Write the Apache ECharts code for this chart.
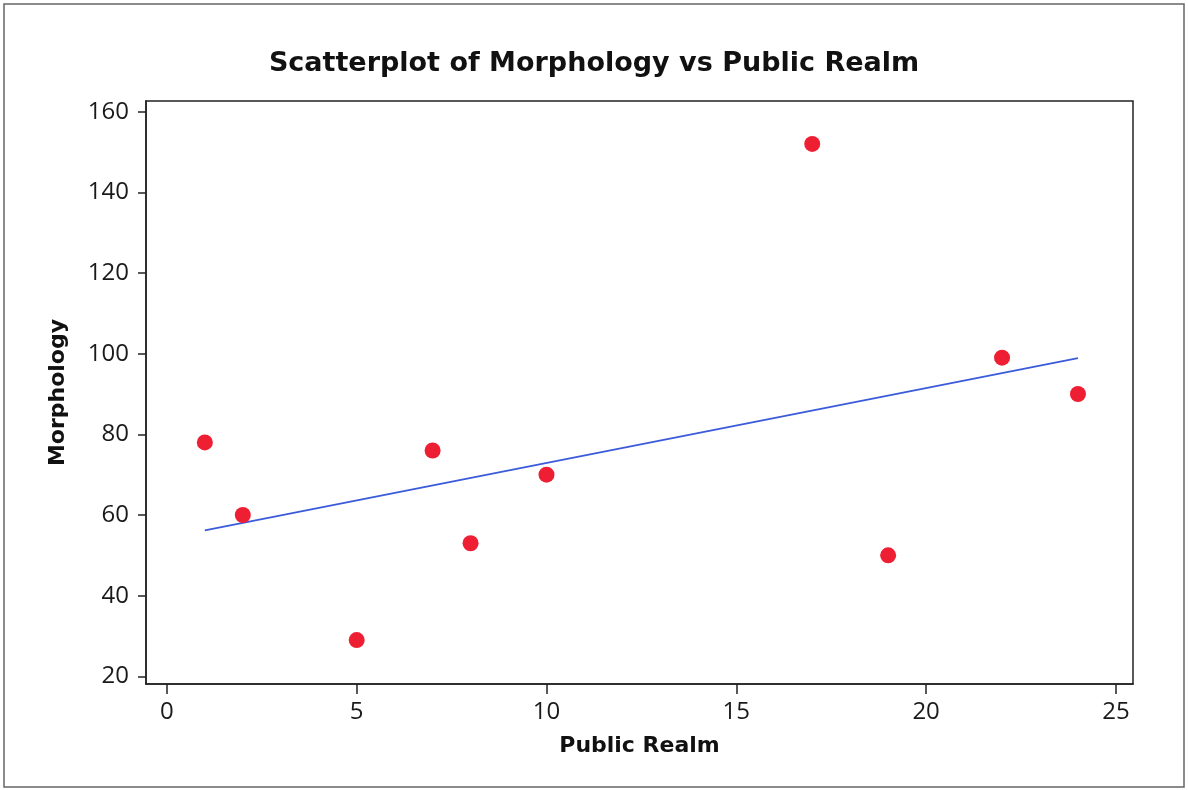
<!DOCTYPE html>
<html>
<head>
<meta charset="utf-8">
<script src="https://cdn.jsdelivr.net/npm/echarts@6/dist/echarts.min.js"></script>
<style>
  html, body { margin: 0; padding: 0; background: #fff; }
  #chart { width: 1188px; height: 790px; }
</style>
</head>
<body>
<div id="chart"></div>
<script>
// values
const publicRealm = [1, 2, 5, 7, 8, 10, 17, 19, 22, 24];
const morphology = [78, 60, 29, 76, 53, 70, 152, 50, 99, 90];
// fitted line end points (as drawn)
const fitX = [1, 24];
const fitY = [56.2, 98.9];
const xTicks = [0, 5, 10, 15, 20, 25];
const yTicks = [20, 40, 60, 80, 100, 120, 140, 160];

const points = publicRealm.map((x, i) => [x, morphology[i]]);
const fitLine = fitX.map((x, i) => [x, fitY[i]]);

const chart = echarts.init(document.getElementById("chart"));

const axisFont = { fontFamily: "Open Sans", fontSize: 24, color: "#1a1a1a" };
const nameFont = { fontFamily: "DejaVu Sans", fontWeight: "bold", fontSize: 22, color: "#111" };

chart.setOption({
  animation: false,
  backgroundColor: "#fff",
  title: {
    text: "Scatterplot of Morphology vs Public Realm",
    left: "center",
    top: 45,
    textStyle: { fontFamily: "DejaVu Sans", fontWeight: "bold", fontSize: 27, color: "#111" },
  },
  graphic: [
    {
      type: "rect",
      shape: { x: 4, y: 4, width: 1180, height: 783 },
      style: { fill: "none", stroke: "#666", lineWidth: 1.5 },
      silent: true,
    },
  ],
  grid: {
    left: 146,
    right: 55,
    top: 101,
    bottom: 106,
    show: true,
    borderColor: "#222",
    borderWidth: 1.5,
  },
  xAxis: {
    type: "value",
    min: -0.55,
    max: 25.45,
    name: "Public Realm",
    nameLocation: "middle",
    nameGap: 51,
    nameTextStyle: nameFont,
    axisLine: { show: true, onZero: false, lineStyle: { color: "#222", width: 1.5 } },
    axisTick: { show: true, length: 10, customValues: xTicks, lineStyle: { color: "#222", width: 1.5 } },
    axisLabel: Object.assign({ customValues: xTicks, margin: 16 }, axisFont),
    splitLine: { show: false },
  },
  yAxis: {
    type: "value",
    min: 18.1,
    max: 162.65,
    name: "Morphology",
    nameLocation: "middle",
    nameGap: 77,
    nameRotate: 90,
    nameTextStyle: nameFont,
    axisLine: { show: true, onZero: false, lineStyle: { color: "#222", width: 1.5 } },
    axisTick: { show: true, length: 8, customValues: yTicks, lineStyle: { color: "#222", width: 1.5 } },
    axisLabel: Object.assign({ customValues: yTicks, margin: 17 }, axisFont),
    splitLine: { show: false },
  },
  series: [
    {
      type: "line",
      data: fitLine,
      symbol: "none",
      lineStyle: { color: "#3b5bdb", width: 1.8 },
      z: 2,
    },
    {
      type: "scatter",
      data: points,
      symbolSize: 16,
      itemStyle: { color: "#ee1f33", opacity: 1 },
      z: 3,
    },
  ],
});
</script>
</body>
</html>
